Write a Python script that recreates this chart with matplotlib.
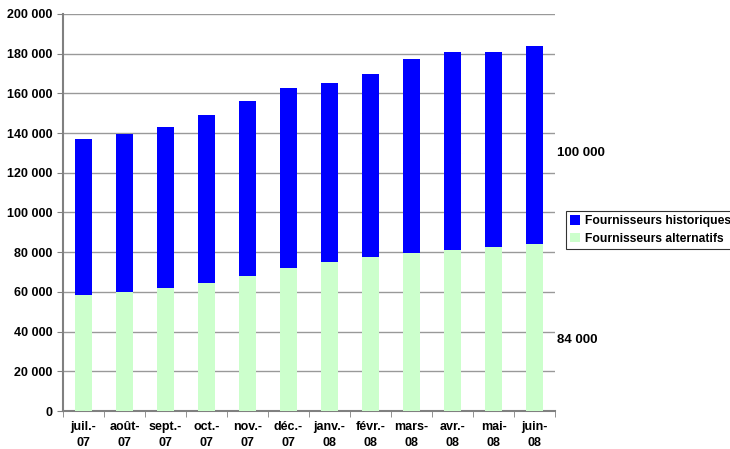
import matplotlib
matplotlib.use("Agg")
import matplotlib.pyplot as plt
import numpy as np

months = ["juil.-\n07", "août-\n07", "sept.-\n07", "oct.-\n07", "nov.-\n07", "déc.-\n07",
          "janv.-\n08", "févr.-\n08", "mars-\n08", "avr.-\n08", "mai-\n08", "juin-\n08"]
alternatifs = [58400, 60000, 62000, 64500, 68000, 72000, 75000, 77600, 79600, 81100, 82600, 84000]
totals = [137000, 139500, 143000, 149100, 156200, 162700, 165200, 169800, 177300, 180900, 180900, 183900]
historiques = [t - a for t, a in zip(totals, alternatifs)]

plt.rcParams['font.family'] = ['Liberation Sans', 'DejaVu Sans']
plt.rcParams['font.weight'] = 'bold'

fig = plt.figure(figsize=(7.3, 4.49), dpi=100)
ax = fig.add_axes([63/730, 1 - 411/449, (555-63)/730, 397/449])

x = np.arange(len(months))
ax.bar(x, alternatifs, width=0.42, color='#ccffcc', label='Fournisseurs alternatifs', zorder=3)
ax.bar(x, historiques, bottom=alternatifs, width=0.42, color='#0000ff',
       label='Fournisseurs historiques', zorder=3)

ax.set_xlim(-0.5, len(months) - 0.5)
ax.set_ylim(0, 200000)
ax.set_yticks(np.arange(0, 200001, 20000))
ax.set_yticklabels([f"{v:,}".replace(",", " ") for v in range(0, 200001, 20000)],
                   fontsize=9, fontweight='bold')
ax.yaxis.grid(True, color='#999999', linewidth=1, zorder=0)

ax.set_xticks(x)
ax.set_xticklabels(months, fontsize=9, fontweight='bold', linespacing=1.45)
ax.tick_params(axis='x', length=0, pad=7)
ax.set_xticks(np.arange(-0.5, len(months)), minor=True)
ax.tick_params(axis='x', which='minor', length=4, color='#808080', direction='out')
ax.tick_params(axis='y', length=4, color='#808080', direction='out')

for s in ['top', 'right']:
    ax.spines[s].set_visible(False)
for s in ['left', 'bottom']:
    ax.spines[s].set_color('#808080')
    ax.spines[s].set_linewidth(1.5)

fig.text(557/730, 1 - 153/449, "100 000", fontsize=9.5, fontweight='bold', va='center')
fig.text(557/730, 1 - 340/449, "84 000", fontsize=9.5, fontweight='bold', va='center')

handles, labels = ax.get_legend_handles_labels()
leg = fig.legend(handles[::-1], labels[::-1], loc='upper left',
                 bbox_to_anchor=(566/730, 1 - 211/449), frameon=True, fancybox=False,
                 edgecolor='black', fontsize=8.7, handlelength=0.8, handleheight=0.8,
                 handletextpad=0.4, borderpad=0.35, labelspacing=0.45, borderaxespad=0)
leg.get_frame().set_linewidth(0.8)

fig.savefig("out.png", dpi=100)
